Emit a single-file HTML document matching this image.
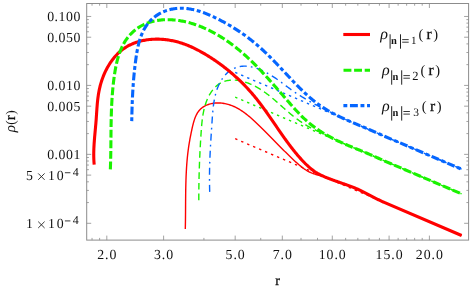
<!DOCTYPE html>
<html><head><meta charset="utf-8"><style>
html,body{margin:0;padding:0;background:#fff;}
svg{display:block;will-change:transform;font-family:"Liberation Serif",serif;}
text{fill:#111;text-rendering:geometricPrecision;}
</style></head><body>
<svg width="474" height="290" viewBox="0 0 474 290">
<rect width="474" height="290" fill="#fff"/>
<g><path d="M185.30,228.90 L185.33,227.87 L185.35,226.84 L185.37,225.81 L185.39,224.77 L185.41,223.73 L185.43,222.70 L185.44,221.65 L185.46,220.61 L185.47,219.56 L185.48,218.52 L185.49,217.47 L185.50,216.42 L185.51,215.36 L185.52,214.31 L185.53,213.25 L185.54,212.19 L185.54,211.14 L185.55,210.08 L185.56,209.01 L185.56,207.95 L185.57,206.89 L185.57,205.82 L185.58,204.75 L185.59,203.69 L185.59,202.62 L185.60,201.55 L185.61,200.48 L185.62,199.41 L185.63,198.34 L185.64,197.26 L185.65,196.19 L185.66,195.12 L185.67,194.05 L185.68,192.97 L185.70,191.90 L185.71,190.82 L185.73,189.75 L185.75,188.68 L185.77,187.60 L185.79,186.53 L185.82,185.45 L185.84,184.38 L185.87,183.31 L185.90,182.23 L185.93,181.16 L185.96,180.09 L186.00,179.02 L186.04,177.94 L186.08,176.87 L186.12,175.80 L186.17,174.74 L186.22,173.67 L186.27,172.60 L186.32,171.54 L186.38,170.47 L186.44,169.41 L186.50,168.34 L186.57,167.28 L186.64,166.22 L186.71,165.17 L186.79,164.11 L186.87,163.05 L186.95,162.00 L187.04,160.95 L187.13,159.90 L187.23,158.85 L187.33,157.80 L187.43,156.76 L187.54,155.72 L187.65,154.68 L187.77,153.64 L187.89,152.60 L188.02,151.57 L188.15,150.54 L188.28,149.51 L188.43,148.48 L188.57,147.46 L188.72,146.43 L188.88,145.41 L189.04,144.39 L189.20,143.36 L189.37,142.33 L189.55,141.31 L189.73,140.28 L189.91,139.24 L190.10,138.21 L190.30,137.17 L190.50,136.12 L190.70,135.07 L190.92,134.02 L191.13,132.95 L191.35,131.89 L191.58,130.81 L191.81,129.73 L192.05,128.63 L192.30,127.53 L192.55,126.43 L192.81,125.32 L193.09,124.22 L193.38,123.12 L193.68,122.02 L194.00,120.94 L194.34,119.87 L194.71,118.81 L195.09,117.77 L195.50,116.76 L195.94,115.76 L196.40,114.80 L196.90,113.86 L197.42,112.95 L197.99,112.08 L198.58,111.25 L199.22,110.46 L199.89,109.71 L200.60,109.01 L201.35,108.34 L202.12,107.72 L202.93,107.14 L203.77,106.60 L204.64,106.10 L205.53,105.63 L206.45,105.21 L207.39,104.83 L208.35,104.48 L209.33,104.17 L210.33,103.90 L211.34,103.66 L212.36,103.46 L213.40,103.29 L214.44,103.16 L215.49,103.06 L216.55,103.00 L217.61,102.97 L218.67,102.97 L219.74,103.00 L220.80,103.07 L221.86,103.17 L222.91,103.29 L223.96,103.45 L224.99,103.64 L226.02,103.85 L227.04,104.09 L228.05,104.36 L229.05,104.66 L230.04,104.98 L231.03,105.33 L232.00,105.70 L232.97,106.09 L233.93,106.51 L234.88,106.95 L235.82,107.41 L236.75,107.89 L237.68,108.40 L238.60,108.92 L239.51,109.45 L240.41,110.01 L241.31,110.58 L242.20,111.17 L243.08,111.78 L243.96,112.39 L244.83,113.03 L245.69,113.67 L246.55,114.33 L247.40,115.00 L248.25,115.68 L249.09,116.37 L249.92,117.07 L250.75,117.78 L251.57,118.50 L252.39,119.22 L253.20,119.95 L254.01,120.69 L254.81,121.43 L255.61,122.17 L256.40,122.92 L257.19,123.67 L257.97,124.42 L258.75,125.18 L259.53,125.93 L260.30,126.68 L261.07,127.44 L261.83,128.19 L262.60,128.94 L263.36,129.70 L264.11,130.45 L264.86,131.20 L265.61,131.96 L266.36,132.71 L267.11,133.46 L267.85,134.21 L268.59,134.97 L269.33,135.72 L270.07,136.47 L270.80,137.22 L271.54,137.97 L272.27,138.72 L273.01,139.47 L273.74,140.22 L274.47,140.96 L275.20,141.71 L275.93,142.46 L276.67,143.20 L277.40,143.95 L278.13,144.70 L278.86,145.44 L279.59,146.19 L280.33,146.93 L281.06,147.67 L281.80,148.41 L282.54,149.16 L283.27,149.90 L284.02,150.64 L284.76,151.38 L285.50,152.11 L286.25,152.85 L287.00,153.59 L287.75,154.33 L288.50,155.06 L289.26,155.79 L290.02,156.53 L290.79,157.26 L291.55,157.99 L292.32,158.72 L293.10,159.45 L293.88,160.18 L294.66,160.91 L295.45,161.64 L296.24,162.36 L297.04,163.08 L297.84,163.80 L298.65,164.50 L299.47,165.20 L300.29,165.89 L301.12,166.57 L301.96,167.23 L302.81,167.87 L303.67,168.50 L304.55,169.11 L305.43,169.70 L306.32,170.26 L307.23,170.80 L308.14,171.32 L309.08,171.80 L310.02,172.26 L310.98,172.69 L311.95,173.09 L312.94,173.47 L313.93,173.82 L314.93,174.16 L315.94,174.47 L316.96,174.78 L317.98,175.07 L319.01,175.26 L320.04,175.48 L321.07,175.73 L322.11,176.02 L323.14,176.34 L324.17,176.68 L325.20,177.05 L326.22,177.44 L327.24,177.84 L328.26,178.26 L329.28,178.68 L330.13,179.03 L331.13,179.41 L332.14,179.78 L333.14,180.15 L334.15,180.51 L335.17,180.87 L336.18,181.23 L337.20,181.58 L338.21,181.93 L339.23,182.28 L340.25,182.63 L341.27,182.99 L342.28,183.34 L343.30,183.69 L344.32,184.04 L345.33,184.40 L346.34,184.76 L347.36,185.12 L348.37,185.49 L349.37,185.86 L350.38,186.24 L351.38,186.62 L352.38,187.01 L353.38,187.41 L354.37,187.80 L355.36,188.21 L356.35,188.62 L357.33,189.04 L358.32,189.46 L359.30,189.88 L360.27,190.33 L361.25,190.84 L362.22,191.35 L363.20,191.86 L364.16,192.37 L365.13,192.88 L366.10,193.39 L367.06,193.90 L368.02,194.41 L368.98,194.92 L369.94,195.42 L370.90,195.92 L371.86,196.42 L372.81,196.91 L373.77,197.40 L374.72,197.88 L375.68,198.36 L376.63,198.83 L377.58,199.30 L378.53,199.76 L379.48,200.22 L380.43,200.67 L381.38,201.12 L382.33,201.56 L383.28,201.99 L384.23,202.42 L461.60,235.50" fill="none" stroke="#ff0000" stroke-width="1.4" stroke-linecap="butt" stroke-linejoin="round"/>
<path d="M198.80,200.20 L198.80,199.18 L198.80,198.16 L198.80,197.14 L198.80,196.12 L198.81,195.11 L198.82,194.10 L198.82,193.09 L198.83,192.08 L198.84,191.07 L198.85,190.07 L198.86,189.07 L198.87,188.07 L198.88,187.08 L198.90,186.08 L198.91,185.09 L198.93,184.10 L198.94,183.11 L198.96,182.12 L198.98,181.13 L199.00,180.15 L199.02,179.16 L199.04,178.18 L199.06,177.20 L199.08,176.22 L199.11,175.24 L199.13,174.26 L199.16,173.28 L199.19,172.31 L199.22,171.33 L199.24,170.36 L199.27,169.38 L199.31,168.41 L199.34,167.44 L199.37,166.47 L199.40,165.49 L199.44,164.52 L199.47,163.55 L199.51,162.58 L199.55,161.61 L199.59,160.64 L199.63,159.67 L199.67,158.70 L199.71,157.73 L199.75,156.76 L199.80,155.79 L199.84,154.81 L199.89,153.84 L199.93,152.87 L199.98,151.90 L200.03,150.92 L200.08,149.95 L200.13,148.98 L200.18,148.00 L200.23,147.02 L200.29,146.05 L200.34,145.07 L200.40,144.09 L200.45,143.11 L200.51,142.13 L200.57,141.14 L200.63,140.16 L200.69,139.17 L200.75,138.19 L200.81,137.20 L200.88,136.21 L200.94,135.22 L201.01,134.22 L201.07,133.23 L201.14,132.23 L201.21,131.23 L201.28,130.23 L201.35,129.23 L201.43,128.23 L201.51,127.22 L201.59,126.22 L201.68,125.22 L201.77,124.22 L201.87,123.21 L201.97,122.21 L202.08,121.21 L202.19,120.21 L202.32,119.21 L202.45,118.22 L202.59,117.22 L202.73,116.23 L202.89,115.24 L203.05,114.26 L203.23,113.27 L203.41,112.30 L203.61,111.32 L203.82,110.35 L204.04,109.38 L204.27,108.42 L204.52,107.46 L204.78,106.51 L205.05,105.56 L205.34,104.62 L205.64,103.68 L205.95,102.75 L206.29,101.83 L206.64,100.91 L207.00,100.00 L207.38,99.10 L207.78,98.20 L208.20,97.31 L208.64,96.43 L209.10,95.56 L209.57,94.70 L210.07,93.85 L210.58,93.01 L211.12,92.18 L211.67,91.36 L212.25,90.57 L212.84,89.79 L213.46,89.03 L214.10,88.30 L214.76,87.58 L215.44,86.90 L216.14,86.24 L216.86,85.60 L217.60,85.00 L218.36,84.43 L219.15,83.90 L219.95,83.40 L220.78,82.94 L221.63,82.51 L222.49,82.12 L223.37,81.76 L224.27,81.43 L225.18,81.14 L226.10,80.89 L227.03,80.67 L227.97,80.48 L228.93,80.32 L229.89,80.20 L230.85,80.11 L231.82,80.05 L232.80,80.03 L233.77,80.04 L234.76,80.07 L235.74,80.14 L236.72,80.23 L237.71,80.36 L238.70,80.50 L239.68,80.68 L240.67,80.88 L241.65,81.10 L242.63,81.35 L243.61,81.61 L244.59,81.90 L245.56,82.21 L246.53,82.54 L247.49,82.89 L248.45,83.25 L249.40,83.63 L250.34,84.03 L251.28,84.44 L252.20,84.86 L253.12,85.30 L254.03,85.75 L254.93,86.21 L255.82,86.68 L256.70,87.16 L257.57,87.65 L258.43,88.15 L259.29,88.66 L260.13,89.18 L260.97,89.71 L261.79,90.24 L262.61,90.79 L263.43,91.34 L264.23,91.90 L265.03,92.46 L265.82,93.04 L266.61,93.62 L267.39,94.20 L268.17,94.79 L268.94,95.39 L269.70,96.00 L270.46,96.60 L271.22,97.22 L271.97,97.83 L272.72,98.45 L273.47,99.08 L274.21,99.71 L274.95,100.34 L275.69,100.98 L276.43,101.61 L277.16,102.25 L277.89,102.90 L278.62,103.54 L279.36,104.19 L280.09,104.83 L280.82,105.48 L281.55,106.13 L282.28,106.78 L283.01,107.43 L283.74,108.07 L284.48,108.72 L285.21,109.37 L285.95,110.01 L286.69,110.66 L287.43,111.30 L288.18,111.94 L288.93,112.57 L289.68,113.21 L290.44,113.84 L291.20,114.47 L291.96,115.09 L292.73,115.71 L293.50,116.33 L294.28,116.94 L295.06,117.55 L295.85,118.15 L296.64,118.74 L297.43,119.33 L298.23,119.92 L299.04,120.50 L299.85,121.07 L300.66,121.63 L301.48,122.19 L302.30,122.74 L303.13,123.28 L303.96,123.81 L304.80,124.34 L305.64,124.85 L306.49,125.36 L307.34,125.86 L308.20,126.34 L309.06,126.82 L309.92,127.29 L310.79,127.76 L311.67,128.21 L312.54,128.66 L313.42,129.11 L314.30,129.55 L315.19,129.98 L316.07,130.41 L316.96,130.84 L317.85,131.27 L318.74,131.70 L319.63,132.12 L320.51,132.50 L321.40,132.85 L322.29,133.22 L323.19,133.61 L324.08,134.01 L324.97,134.42 L325.86,134.85 L326.75,135.29 L327.65,135.73 L328.54,136.18 L329.43,136.64 L330.33,137.10 L331.22,137.56 L332.92,138.44 L333.86,138.92 L334.82,139.39 L335.77,139.86 L336.73,140.33 L337.69,140.79 L338.65,141.24 L339.62,141.69 L340.58,142.14 L341.55,142.58 L342.53,143.01 L343.50,143.45 L344.48,143.88 L345.45,144.30 L346.43,144.73 L347.42,145.15 L348.40,145.56 L349.38,145.98 L350.37,146.39 L351.35,146.80 L352.34,147.21 L353.33,147.61 L354.32,148.02 L355.31,148.42 L356.30,148.82 L357.29,149.22 L358.28,149.62 L359.27,150.02 L360.26,150.42 L361.25,150.83 L362.24,151.23 L363.23,151.64 L364.22,152.05 L365.21,152.47 L366.20,152.89 L367.18,153.30 L368.17,153.72 L369.15,154.15 L370.14,154.57 L371.12,155.00 L372.10,155.43 L373.08,155.86 L374.06,156.29 L375.04,156.72 L376.02,157.16 L376.99,157.59 L377.97,158.03 L378.94,158.46 L379.91,158.89 L380.89,159.33 L381.86,159.76 L382.83,160.19 L383.79,160.63 L384.76,161.06 L461.60,193.90" fill="none" stroke="#1af200" stroke-width="1.4" stroke-dasharray="6.7 3.9" stroke-linecap="butt" stroke-linejoin="round"/>
<path d="M209.70,191.88 L209.67,190.83 L209.64,189.80 L209.62,188.77 L209.60,187.74 L209.58,186.72 L209.56,185.70 L209.54,184.69 L209.53,183.68 L209.52,182.68 L209.51,181.68 L209.51,180.68 L209.50,179.69 L209.50,178.70 L209.50,177.72 L209.50,176.74 L209.51,175.76 L209.51,174.79 L209.52,173.82 L209.53,172.85 L209.55,171.89 L209.56,170.93 L209.58,169.97 L209.59,169.01 L209.61,168.06 L209.63,167.11 L209.66,166.16 L209.68,165.21 L209.71,164.27 L209.74,163.32 L209.77,162.38 L209.80,161.44 L209.83,160.51 L209.86,159.57 L209.90,158.64 L209.93,157.70 L209.97,156.77 L210.01,155.84 L210.05,154.91 L210.09,153.98 L210.14,153.05 L210.18,152.12 L210.23,151.20 L210.27,150.27 L210.32,149.34 L210.37,148.42 L210.42,147.49 L210.47,146.56 L210.52,145.63 L210.58,144.71 L210.63,143.78 L210.68,142.85 L210.74,141.92 L210.79,140.99 L210.85,140.06 L210.91,139.13 L210.97,138.19 L211.02,137.26 L211.08,136.32 L211.14,135.38 L211.20,134.44 L211.26,133.50 L211.33,132.56 L211.39,131.62 L211.45,130.67 L211.51,129.72 L211.58,128.77 L211.64,127.81 L211.70,126.86 L211.77,125.90 L211.83,124.94 L211.89,123.97 L211.96,123.00 L212.02,122.03 L212.09,121.06 L212.15,120.08 L212.22,119.10 L212.28,118.12 L212.35,117.13 L212.42,116.15 L212.50,115.16 L212.57,114.17 L212.65,113.18 L212.74,112.19 L212.83,111.20 L212.92,110.21 L213.02,109.22 L213.12,108.23 L213.24,107.24 L213.35,106.26 L213.48,105.27 L213.61,104.29 L213.75,103.31 L213.90,102.33 L214.06,101.36 L214.22,100.38 L214.40,99.42 L214.59,98.45 L214.78,97.49 L214.99,96.54 L215.21,95.59 L215.44,94.64 L215.69,93.70 L215.95,92.77 L216.22,91.84 L216.50,90.92 L216.80,90.01 L217.11,89.10 L217.44,88.20 L217.79,87.31 L218.15,86.42 L218.52,85.55 L218.92,84.68 L219.33,83.82 L219.76,82.97 L220.20,82.13 L220.67,81.30 L221.15,80.48 L221.66,79.68 L222.18,78.88 L222.72,78.10 L223.28,77.33 L223.86,76.58 L224.46,75.85 L225.08,75.13 L225.72,74.44 L226.37,73.76 L227.04,73.11 L227.73,72.48 L228.44,71.88 L229.17,71.30 L229.92,70.75 L230.68,70.23 L231.46,69.74 L232.26,69.28 L233.08,68.85 L233.90,68.45 L234.75,68.09 L235.60,67.75 L236.47,67.45 L237.35,67.17 L238.24,66.93 L239.14,66.72 L240.05,66.54 L240.97,66.40 L241.89,66.29 L242.82,66.21 L243.75,66.16 L244.69,66.15 L245.63,66.16 L246.57,66.21 L247.52,66.29 L248.46,66.39 L249.41,66.52 L250.36,66.68 L251.31,66.86 L252.26,67.06 L253.20,67.29 L254.15,67.54 L255.09,67.82 L256.03,68.11 L256.96,68.42 L257.89,68.75 L258.81,69.10 L259.73,69.46 L260.65,69.84 L261.55,70.23 L262.45,70.63 L263.34,71.05 L264.22,71.48 L265.10,71.92 L265.96,72.37 L266.82,72.83 L267.67,73.31 L268.52,73.79 L269.36,74.27 L270.19,74.77 L271.01,75.28 L271.83,75.79 L272.65,76.31 L273.46,76.84 L274.26,77.37 L275.06,77.91 L275.86,78.45 L276.65,79.00 L277.44,79.55 L278.22,80.11 L279.00,80.67 L279.78,81.24 L280.56,81.81 L281.34,82.38 L282.11,82.95 L282.88,83.52 L283.65,84.10 L284.42,84.67 L285.19,85.25 L285.96,85.82 L286.73,86.40 L287.50,86.97 L288.27,87.54 L289.04,88.11 L289.82,88.68 L290.59,89.25 L291.37,89.81 L292.15,90.37 L292.93,90.92 L293.71,91.47 L294.50,92.02 L295.29,92.56 L296.08,93.09 L296.88,93.63 L297.68,94.15 L298.48,94.67 L299.29,95.19 L300.10,95.70 L300.91,96.21 L301.72,96.72 L302.54,97.22 L303.36,97.72 L304.18,98.21 L305.00,98.70 L305.82,99.19 L306.65,99.67 L307.48,100.15 L308.31,100.62 L309.15,101.10 L309.98,101.57 L310.82,102.04 L311.66,102.50 L312.50,102.96 L313.34,103.42 L314.18,103.88 L315.03,104.33 L315.87,104.79 L316.72,105.24 L317.57,105.68 L318.42,106.13 L319.27,106.57 L320.12,107.02 L320.97,107.46 L321.82,107.90 L322.67,108.34 L323.53,108.73 L324.38,109.11 L325.24,109.50 L326.09,109.90 L326.95,110.31 L327.81,110.73 L328.67,111.16 L329.53,111.59 L330.39,112.02 L331.25,112.46 L332.11,112.90 L332.97,113.34 L333.83,113.79 L334.70,114.23 L335.34,114.56 L336.17,114.98 L337.01,115.41 L337.85,115.82 L338.69,116.24 L339.53,116.65 L340.37,117.05 L341.22,117.46 L342.07,117.86 L342.92,118.25 L343.77,118.65 L344.62,119.04 L345.48,119.43 L346.34,119.81 L347.19,120.19 L348.05,120.57 L348.91,120.95 L349.78,121.33 L350.64,121.70 L351.50,122.07 L352.37,122.44 L353.23,122.81 L354.10,123.18 L354.97,123.54 L355.84,123.91 L356.70,124.27 L357.57,124.63 L358.44,124.99 L359.31,125.35 L360.18,125.72 L361.05,126.08 L361.92,126.44 L362.79,126.81 L363.66,127.18 L364.53,127.54 L365.40,127.91 L366.26,128.28 L367.13,128.65 L368.00,129.02 L368.87,129.40 L369.73,129.77 L370.60,130.14 L371.46,130.52 L372.33,130.90 L373.19,131.27 L374.05,131.65 L374.91,132.03 L375.77,132.41 L376.63,132.78 L377.49,133.16 L378.35,133.54 L379.21,133.92 L380.07,134.29 L380.92,134.67 L381.78,135.05 L382.63,135.42 L383.49,135.80 L384.34,136.17 L461.60,169.20" fill="none" stroke="#0566ff" stroke-width="1.4" stroke-dasharray="7 4.2 1.7 4.2" stroke-linecap="butt" stroke-linejoin="round"/>
<path d="M235.18,138.73 L461.60,235.50" fill="none" stroke="#ff0000" stroke-width="1.4" stroke-dasharray="2.4 4.1"/>
<path d="M235.18,97.13 L461.60,193.90" fill="none" stroke="#1af200" stroke-width="1.4" stroke-dasharray="2.4 4.1"/>
<path d="M235.18,72.43 L461.60,169.20" fill="none" stroke="#0566ff" stroke-width="1.4" stroke-dasharray="2.4 4.1"/>
<path d="M94.20,164.70 L94.10,163.65 L94.02,162.61 L93.95,161.56 L93.89,160.50 L93.84,159.45 L93.80,158.39 L93.77,157.34 L93.75,156.28 L93.74,155.21 L93.74,154.15 L93.75,153.08 L93.77,152.02 L93.79,150.95 L93.82,149.88 L93.86,148.81 L93.91,147.74 L93.96,146.67 L94.02,145.59 L94.08,144.52 L94.15,143.45 L94.22,142.37 L94.30,141.30 L94.38,140.22 L94.46,139.14 L94.55,138.07 L94.64,136.99 L94.74,135.91 L94.83,134.84 L94.93,133.76 L95.03,132.68 L95.12,131.61 L95.22,130.53 L95.32,129.46 L95.42,128.38 L95.52,127.31 L95.61,126.24 L95.71,125.17 L95.80,124.10 L95.89,123.03 L95.98,121.96 L96.07,120.89 L96.15,119.83 L96.23,118.76 L96.30,117.70 L96.37,116.64 L96.44,115.58 L96.52,114.52 L96.59,113.46 L96.66,112.41 L96.73,111.35 L96.80,110.30 L96.87,109.24 L96.95,108.19 L97.03,107.14 L97.11,106.09 L97.19,105.04 L97.28,103.99 L97.38,102.94 L97.48,101.90 L97.59,100.85 L97.71,99.80 L97.83,98.76 L97.96,97.71 L98.10,96.67 L98.25,95.63 L98.40,94.58 L98.57,93.54 L98.75,92.50 L98.94,91.46 L99.15,90.42 L99.36,89.37 L99.59,88.33 L99.83,87.29 L100.09,86.25 L100.36,85.21 L100.64,84.17 L100.94,83.13 L101.26,82.10 L101.59,81.06 L101.93,80.03 L102.29,79.00 L102.66,77.98 L103.04,76.96 L103.44,75.94 L103.86,74.93 L104.29,73.93 L104.73,72.93 L105.19,71.93 L105.66,70.95 L106.14,69.97 L106.64,69.00 L107.15,68.04 L107.68,67.09 L108.22,66.15 L108.78,65.21 L109.35,64.29 L109.93,63.38 L110.53,62.48 L111.14,61.59 L111.76,60.71 L112.40,59.85 L113.05,59.00 L113.72,58.16 L114.40,57.34 L115.09,56.53 L115.80,55.74 L116.52,54.96 L117.25,54.20 L118.00,53.46 L118.76,52.73 L119.54,52.02 L120.33,51.33 L121.13,50.65 L121.94,50.00 L122.77,49.36 L123.62,48.75 L124.47,48.15 L125.34,47.58 L126.22,47.02 L127.12,46.49 L128.03,45.97 L128.94,45.48 L129.87,45.00 L130.81,44.55 L131.77,44.11 L132.73,43.70 L133.70,43.30 L134.68,42.92 L135.67,42.57 L136.66,42.23 L137.67,41.90 L138.68,41.60 L139.71,41.32 L140.73,41.05 L141.77,40.80 L142.81,40.57 L143.86,40.36 L144.91,40.17 L145.96,39.99 L147.03,39.83 L148.09,39.69 L149.16,39.56 L150.23,39.45 L151.31,39.36 L152.39,39.28 L153.47,39.23 L154.55,39.18 L155.64,39.16 L156.73,39.15 L157.81,39.15 L158.90,39.17 L159.99,39.21 L161.07,39.26 L162.16,39.33 L163.24,39.41 L164.32,39.51 L165.41,39.62 L166.48,39.75 L167.56,39.89 L168.63,40.05 L169.70,40.22 L170.76,40.41 L171.83,40.61 L172.88,40.82 L173.93,41.05 L174.98,41.29 L176.02,41.54 L177.05,41.81 L178.08,42.09 L179.11,42.38 L180.13,42.69 L181.14,43.00 L182.15,43.33 L183.16,43.67 L184.16,44.02 L185.16,44.38 L186.15,44.76 L187.14,45.14 L188.12,45.54 L189.10,45.94 L190.08,46.36 L191.05,46.78 L192.01,47.22 L192.98,47.66 L193.94,48.11 L194.89,48.57 L195.84,49.04 L196.79,49.52 L197.73,50.01 L198.67,50.50 L199.61,51.01 L200.54,51.51 L201.47,52.03 L202.40,52.55 L203.32,53.08 L204.24,53.62 L205.15,54.16 L206.07,54.71 L206.98,55.27 L207.88,55.83 L208.79,56.39 L209.69,56.96 L210.58,57.54 L211.48,58.12 L212.37,58.70 L213.26,59.29 L214.15,59.89 L215.03,60.49 L215.91,61.09 L216.78,61.70 L217.66,62.32 L218.53,62.94 L219.39,63.56 L220.26,64.19 L221.12,64.82 L221.97,65.46 L222.83,66.10 L223.68,66.75 L224.52,67.41 L225.37,68.06 L226.20,68.73 L227.04,69.39 L227.87,70.06 L228.70,70.74 L229.52,71.42 L230.35,72.11 L231.16,72.80 L231.98,73.49 L232.79,74.19 L233.59,74.89 L234.39,75.60 L235.19,76.31 L235.98,77.03 L236.77,77.75 L237.56,78.48 L238.34,79.21 L239.12,79.94 L239.89,80.68 L240.66,81.42 L241.43,82.17 L242.19,82.92 L242.94,83.68 L243.69,84.44 L244.44,85.20 L245.19,85.97 L245.92,86.74 L246.66,87.52 L247.39,88.30 L248.11,89.09 L248.84,89.88 L249.55,90.67 L250.26,91.47 L250.97,92.27 L251.67,93.07 L252.37,93.88 L253.06,94.70 L253.75,95.51 L254.43,96.34 L255.11,97.16 L255.79,97.99 L256.46,98.82 L257.12,99.66 L257.79,100.50 L258.44,101.34 L259.10,102.18 L259.75,103.03 L260.40,103.88 L261.04,104.74 L261.68,105.59 L262.32,106.45 L262.95,107.31 L263.59,108.17 L264.21,109.04 L264.84,109.91 L265.47,110.78 L266.09,111.65 L266.71,112.52 L267.33,113.39 L267.94,114.27 L268.56,115.15 L269.17,116.02 L269.78,116.90 L270.39,117.78 L271.00,118.66 L271.61,119.55 L272.22,120.43 L272.82,121.31 L273.43,122.19 L274.04,123.08 L274.64,123.96 L275.25,124.85 L275.85,125.73 L276.46,126.61 L277.06,127.50 L277.67,128.38 L278.27,129.26 L278.88,130.14 L279.49,131.02 L280.10,131.90 L280.71,132.78 L281.32,133.66 L281.93,134.54 L282.54,135.41 L283.16,136.28 L283.77,137.16 L284.39,138.03 L285.01,138.89 L285.64,139.76 L286.26,140.63 L286.89,141.49 L287.52,142.35 L288.15,143.20 L288.79,144.06 L289.42,144.91 L290.07,145.76 L290.71,146.61 L291.36,147.45 L292.01,148.29 L292.66,149.13 L293.32,149.96 L293.99,150.80 L294.65,151.62 L295.32,152.45 L296.00,153.27 L296.68,154.08 L297.36,154.89 L298.05,155.70 L298.75,156.50 L299.44,157.30 L300.15,158.10 L300.86,158.89 L301.57,159.67 L302.29,160.45 L303.02,161.23 L303.75,162.00 L304.49,162.76 L305.23,163.52 L305.99,164.26 L306.75,165.00 L307.52,165.73 L308.29,166.45 L309.08,167.15 L309.88,167.85 L310.68,168.53 L311.50,169.19 L312.33,169.84 L313.17,170.47 L314.02,171.09 L314.88,171.69 L315.76,172.27 L316.65,172.82 L317.55,173.36 L318.47,173.88 L319.40,174.38 L320.34,174.86 L321.29,175.32 L322.25,175.77 L323.22,176.21 L324.19,176.64 L325.17,177.06 L326.15,177.47 L327.14,177.87 L328.13,178.26 L329.13,178.65 L330.13,179.03 L331.13,179.41 L332.14,179.78 L333.14,180.15 L334.15,180.51 L335.17,180.87 L336.18,181.23 L337.20,181.58 L338.21,181.93 L339.23,182.28 L340.25,182.63 L341.27,182.99 L342.28,183.34 L343.30,183.69 L344.32,184.04 L345.33,184.40 L346.34,184.76 L347.36,185.12 L348.37,185.49 L349.37,185.86 L350.38,186.24 L351.38,186.62 L352.38,187.01 L353.38,187.41 L354.37,187.80 L355.36,188.21 L356.35,188.62 L357.33,189.04 L358.32,189.46 L359.30,189.88 L360.27,190.33 L361.25,190.84 L362.22,191.35 L363.20,191.86 L364.16,192.37 L365.13,192.88 L366.10,193.39 L367.06,193.90 L368.02,194.41 L368.98,194.92 L369.94,195.42 L370.90,195.92 L371.86,196.42 L372.81,196.91 L373.77,197.40 L374.72,197.88 L375.68,198.36 L376.63,198.83 L377.58,199.30 L378.53,199.76 L379.48,200.22 L380.43,200.67 L381.38,201.12 L382.33,201.56 L383.28,201.99 L384.23,202.42 L461.60,235.50" fill="none" stroke="#ff0000" stroke-width="3.1" stroke-linecap="butt" stroke-linejoin="round"/>
<path d="M110.35,169.43 L110.39,168.34 L110.43,167.25 L110.47,166.16 L110.50,165.07 L110.53,163.99 L110.56,162.91 L110.59,161.82 L110.62,160.75 L110.65,159.67 L110.67,158.59 L110.69,157.52 L110.72,156.45 L110.74,155.38 L110.76,154.31 L110.77,153.24 L110.79,152.17 L110.80,151.11 L110.82,150.04 L110.83,148.98 L110.85,147.92 L110.86,146.86 L110.87,145.80 L110.88,144.74 L110.89,143.69 L110.90,142.63 L110.91,141.58 L110.92,140.52 L110.93,139.47 L110.94,138.42 L110.95,137.37 L110.96,136.32 L110.97,135.27 L110.98,134.22 L110.99,133.17 L111.00,132.12 L111.01,131.08 L111.02,130.03 L111.03,128.98 L111.05,127.94 L111.06,126.89 L111.08,125.85 L111.09,124.80 L111.11,123.76 L111.13,122.71 L111.15,121.67 L111.17,120.63 L111.19,119.58 L111.21,118.54 L111.24,117.49 L111.26,116.45 L111.29,115.40 L111.32,114.36 L111.35,113.31 L111.39,112.27 L111.42,111.22 L111.46,110.18 L111.50,109.13 L111.54,108.08 L111.59,107.04 L111.63,105.99 L111.68,104.94 L111.74,103.89 L111.79,102.84 L111.85,101.79 L111.91,100.74 L111.97,99.69 L112.04,98.63 L112.11,97.58 L112.18,96.52 L112.26,95.47 L112.33,94.41 L112.42,93.35 L112.50,92.29 L112.59,91.23 L112.69,90.17 L112.78,89.11 L112.88,88.04 L112.99,86.98 L113.10,85.91 L113.21,84.84 L113.32,83.77 L113.44,82.70 L113.57,81.63 L113.70,80.55 L113.83,79.47 L113.97,78.40 L114.11,77.32 L114.26,76.23 L114.41,75.15 L114.57,74.07 L114.74,72.99 L114.91,71.91 L115.09,70.83 L115.28,69.75 L115.47,68.67 L115.67,67.60 L115.88,66.52 L116.10,65.45 L116.33,64.39 L116.57,63.32 L116.82,62.26 L117.07,61.21 L117.34,60.16 L117.62,59.11 L117.91,58.07 L118.21,57.04 L118.53,56.01 L118.85,54.99 L119.19,53.98 L119.54,52.98 L119.91,51.98 L120.28,50.99 L120.68,50.01 L121.08,49.04 L121.51,48.07 L121.94,47.12 L122.40,46.18 L122.86,45.25 L123.35,44.33 L123.85,43.42 L124.37,42.52 L124.90,41.64 L125.45,40.77 L126.02,39.91 L126.61,39.06 L127.22,38.23 L127.85,37.41 L128.49,36.61 L129.16,35.82 L129.84,35.04 L130.54,34.29 L131.25,33.55 L131.99,32.82 L132.74,32.11 L133.50,31.42 L134.28,30.74 L135.08,30.09 L135.89,29.45 L136.72,28.83 L137.56,28.23 L138.41,27.64 L139.28,27.08 L140.16,26.54 L141.05,26.01 L141.96,25.51 L142.87,25.03 L143.80,24.57 L144.74,24.13 L145.69,23.71 L146.65,23.31 L147.62,22.94 L148.60,22.59 L149.59,22.26 L150.59,21.95 L151.60,21.66 L152.61,21.40 L153.63,21.15 L154.66,20.93 L155.70,20.72 L156.74,20.53 L157.78,20.37 L158.83,20.22 L159.89,20.09 L160.95,19.98 L162.01,19.88 L163.07,19.81 L164.14,19.75 L165.21,19.71 L166.28,19.68 L167.35,19.68 L168.43,19.68 L169.50,19.71 L170.57,19.75 L171.65,19.80 L172.72,19.87 L173.79,19.95 L174.86,20.05 L175.92,20.16 L176.99,20.29 L178.05,20.43 L179.12,20.59 L180.18,20.75 L181.23,20.94 L182.29,21.13 L183.34,21.34 L184.40,21.56 L185.45,21.79 L186.49,22.03 L187.54,22.29 L188.58,22.56 L189.62,22.84 L190.66,23.13 L191.69,23.43 L192.72,23.75 L193.75,24.07 L194.77,24.41 L195.79,24.76 L196.81,25.11 L197.82,25.48 L198.83,25.86 L199.84,26.24 L200.84,26.64 L201.83,27.04 L202.83,27.46 L203.82,27.88 L204.80,28.31 L205.78,28.76 L206.76,29.20 L207.73,29.66 L208.70,30.13 L209.66,30.60 L210.62,31.08 L211.57,31.57 L212.52,32.06 L213.46,32.57 L214.40,33.07 L215.33,33.59 L216.25,34.11 L217.18,34.64 L218.09,35.17 L219.00,35.72 L219.91,36.26 L220.81,36.82 L221.71,37.38 L222.60,37.94 L223.48,38.52 L224.37,39.09 L225.24,39.68 L226.12,40.27 L226.98,40.86 L227.85,41.46 L228.71,42.07 L229.56,42.68 L230.41,43.30 L231.26,43.92 L232.10,44.55 L232.94,45.19 L233.78,45.82 L234.61,46.47 L235.44,47.12 L236.26,47.77 L237.08,48.43 L237.89,49.09 L238.70,49.76 L239.51,50.43 L240.32,51.10 L241.12,51.78 L241.92,52.47 L242.71,53.16 L243.50,53.85 L244.29,54.55 L245.07,55.25 L245.85,55.96 L246.63,56.67 L247.41,57.38 L248.18,58.10 L248.95,58.82 L249.71,59.54 L250.48,60.27 L251.24,61.00 L252.00,61.73 L252.75,62.47 L253.51,63.21 L254.26,63.95 L255.00,64.70 L255.75,65.45 L256.49,66.20 L257.23,66.96 L257.97,67.72 L258.71,68.48 L259.44,69.24 L260.18,70.00 L260.91,70.77 L261.63,71.54 L262.36,72.32 L263.09,73.09 L263.81,73.87 L264.53,74.65 L265.25,75.43 L265.97,76.21 L266.68,76.99 L267.40,77.78 L268.11,78.57 L268.83,79.36 L269.54,80.15 L270.25,80.94 L270.96,81.73 L271.66,82.53 L272.37,83.32 L273.07,84.12 L273.78,84.92 L274.48,85.72 L275.19,86.52 L275.89,87.32 L276.59,88.12 L277.29,88.92 L277.99,89.72 L278.69,90.53 L279.39,91.33 L280.09,92.13 L280.79,92.94 L281.48,93.74 L282.18,94.55 L282.88,95.35 L283.58,96.16 L284.27,96.96 L284.97,97.76 L285.67,98.57 L286.37,99.37 L287.06,100.17 L287.76,100.98 L288.46,101.78 L289.16,102.58 L289.86,103.38 L290.56,104.18 L291.26,104.97 L291.96,105.77 L292.67,106.56 L293.37,107.35 L294.08,108.14 L294.79,108.92 L295.51,109.71 L296.22,110.48 L296.94,111.26 L297.66,112.03 L298.39,112.80 L299.12,113.56 L299.85,114.32 L300.59,115.07 L301.33,115.82 L302.08,116.56 L302.83,117.29 L303.59,118.02 L304.35,118.75 L305.12,119.46 L305.89,120.18 L306.67,120.88 L307.45,121.58 L308.25,122.26 L309.05,122.95 L309.85,123.62 L310.66,124.28 L311.48,124.94 L312.31,125.59 L313.14,126.23 L313.98,126.86 L314.83,127.48 L315.69,128.10 L316.55,128.71 L317.41,129.31 L318.28,129.90 L319.16,130.49 L320.05,131.06 L320.93,131.63 L321.83,132.20 L322.73,132.75 L323.63,133.30 L324.54,133.85 L325.46,134.38 L326.37,134.91 L327.30,135.43 L328.22,135.95 L329.15,136.46 L330.09,136.96 L331.03,137.46 L331.97,137.95 L332.92,138.44 L333.86,138.92 L334.82,139.39 L335.77,139.86 L336.73,140.33 L337.69,140.79 L338.65,141.24 L339.62,141.69 L340.58,142.14 L341.55,142.58 L342.53,143.01 L343.50,143.45 L344.48,143.88 L345.45,144.30 L346.43,144.73 L347.42,145.15 L348.40,145.56 L349.38,145.98 L350.37,146.39 L351.35,146.80 L352.34,147.21 L353.33,147.61 L354.32,148.02 L355.31,148.42 L356.30,148.82 L357.29,149.22 L358.28,149.62 L359.27,150.02 L360.26,150.42 L361.25,150.83 L362.24,151.23 L363.23,151.64 L364.22,152.05 L365.21,152.47 L366.20,152.89 L367.18,153.30 L368.17,153.72 L369.15,154.15 L370.14,154.57 L371.12,155.00 L372.10,155.43 L373.08,155.86 L374.06,156.29 L375.04,156.72 L376.02,157.16 L376.99,157.59 L377.97,158.03 L378.94,158.46 L379.91,158.89 L380.89,159.33 L381.86,159.76 L382.83,160.19 L383.79,160.63 L384.76,161.06 L461.60,193.90" fill="none" stroke="#1af200" stroke-width="3.1" stroke-dasharray="7.9 2.7" stroke-linecap="butt" stroke-linejoin="round"/>
<path d="M131.74,121.11 L131.76,120.15 L131.78,119.20 L131.80,118.24 L131.82,117.29 L131.84,116.33 L131.86,115.38 L131.88,114.43 L131.91,113.49 L131.93,112.54 L131.96,111.60 L131.98,110.66 L132.01,109.72 L132.04,108.78 L132.07,107.84 L132.09,106.91 L132.13,105.97 L132.16,105.04 L132.19,104.11 L132.22,103.18 L132.26,102.25 L132.30,101.32 L132.33,100.39 L132.37,99.46 L132.41,98.54 L132.46,97.61 L132.50,96.69 L132.54,95.77 L132.59,94.84 L132.64,93.92 L132.69,93.00 L132.74,92.08 L132.79,91.15 L132.84,90.23 L132.90,89.31 L132.96,88.39 L133.02,87.47 L133.08,86.55 L133.14,85.63 L133.20,84.71 L133.27,83.79 L133.34,82.87 L133.41,81.95 L133.48,81.03 L133.56,80.11 L133.63,79.19 L133.71,78.27 L133.79,77.35 L133.88,76.42 L133.96,75.50 L134.05,74.58 L134.14,73.65 L134.23,72.73 L134.33,71.80 L134.42,70.87 L134.52,69.94 L134.62,69.02 L134.73,68.09 L134.83,67.15 L134.94,66.22 L135.05,65.29 L135.17,64.35 L135.29,63.42 L135.40,62.48 L135.53,61.54 L135.65,60.60 L135.78,59.66 L135.91,58.71 L136.05,57.77 L136.18,56.82 L136.32,55.88 L136.47,54.93 L136.62,53.98 L136.78,53.03 L136.94,52.09 L137.11,51.14 L137.28,50.20 L137.46,49.25 L137.65,48.31 L137.85,47.37 L138.05,46.44 L138.26,45.50 L138.48,44.57 L138.71,43.65 L138.95,42.72 L139.21,41.81 L139.47,40.89 L139.74,39.98 L140.02,39.08 L140.32,38.18 L140.62,37.29 L140.94,36.40 L141.27,35.52 L141.62,34.64 L141.98,33.78 L142.35,32.92 L142.74,32.07 L143.15,31.22 L143.56,30.39 L144.00,29.56 L144.45,28.75 L144.91,27.94 L145.39,27.15 L145.89,26.37 L146.40,25.60 L146.92,24.84 L147.47,24.10 L148.03,23.37 L148.61,22.65 L149.20,21.95 L149.81,21.27 L150.44,20.60 L151.08,19.95 L151.74,19.32 L152.42,18.70 L153.11,18.10 L153.81,17.52 L154.53,16.95 L155.27,16.40 L156.01,15.87 L156.77,15.36 L157.54,14.86 L158.32,14.38 L159.12,13.92 L159.92,13.47 L160.73,13.04 L161.56,12.63 L162.39,12.24 L163.23,11.87 L164.08,11.51 L164.94,11.17 L165.80,10.85 L166.67,10.55 L167.55,10.27 L168.43,10.00 L169.32,9.75 L170.22,9.52 L171.11,9.31 L172.01,9.12 L172.92,8.95 L173.82,8.79 L174.73,8.66 L175.64,8.54 L176.56,8.45 L177.47,8.37 L178.38,8.31 L179.30,8.26 L180.21,8.24 L181.13,8.23 L182.05,8.24 L182.96,8.27 L183.88,8.32 L184.80,8.38 L185.72,8.45 L186.63,8.55 L187.55,8.65 L188.47,8.78 L189.38,8.91 L190.30,9.07 L191.22,9.23 L192.13,9.41 L193.05,9.60 L193.96,9.81 L194.87,10.03 L195.79,10.26 L196.70,10.50 L197.61,10.75 L198.52,11.02 L199.42,11.30 L200.33,11.58 L201.23,11.88 L202.14,12.19 L203.04,12.50 L203.94,12.83 L204.84,13.17 L205.73,13.51 L206.63,13.86 L207.52,14.23 L208.41,14.59 L209.30,14.97 L210.18,15.35 L211.06,15.74 L211.94,16.14 L212.82,16.54 L213.69,16.95 L214.57,17.36 L215.43,17.78 L216.30,18.21 L217.16,18.63 L218.02,19.07 L218.88,19.50 L219.73,19.94 L220.58,20.38 L221.42,20.83 L222.26,21.28 L223.10,21.73 L223.94,22.18 L224.77,22.64 L225.60,23.10 L226.42,23.56 L227.24,24.03 L228.06,24.50 L228.87,24.97 L229.68,25.44 L230.49,25.92 L231.29,26.40 L232.09,26.88 L232.89,27.37 L233.68,27.86 L234.47,28.35 L235.26,28.85 L236.05,29.35 L236.83,29.85 L237.61,30.36 L238.38,30.87 L239.15,31.38 L239.92,31.90 L240.69,32.41 L241.45,32.94 L242.21,33.46 L242.97,33.99 L243.72,34.52 L244.47,35.06 L245.22,35.60 L245.96,36.14 L246.70,36.69 L247.44,37.24 L248.18,37.79 L248.91,38.35 L249.64,38.91 L250.37,39.47 L251.10,40.04 L251.82,40.61 L252.54,41.18 L253.26,41.76 L253.97,42.34 L254.68,42.93 L255.39,43.52 L256.10,44.11 L256.80,44.71 L257.51,45.31 L258.20,45.91 L258.90,46.52 L259.60,47.13 L260.29,47.75 L260.98,48.36 L261.66,48.99 L262.35,49.61 L263.03,50.25 L263.71,50.88 L264.39,51.52 L265.07,52.16 L265.74,52.80 L266.41,53.45 L267.08,54.10 L267.75,54.75 L268.42,55.40 L269.09,56.06 L269.75,56.72 L270.41,57.38 L271.07,58.05 L271.73,58.72 L272.39,59.38 L273.05,60.06 L273.70,60.73 L274.36,61.40 L275.01,62.08 L275.67,62.76 L276.32,63.44 L276.97,64.12 L277.62,64.80 L278.27,65.48 L278.92,66.17 L279.56,66.85 L280.21,67.54 L280.86,68.23 L281.51,68.91 L282.15,69.60 L282.80,70.29 L283.44,70.98 L284.09,71.67 L284.74,72.36 L285.38,73.05 L286.03,73.74 L286.67,74.42 L287.32,75.11 L287.96,75.80 L288.61,76.49 L289.26,77.18 L289.91,77.86 L290.55,78.55 L291.20,79.23 L291.85,79.92 L292.50,80.60 L293.15,81.28 L293.80,81.96 L294.45,82.64 L295.11,83.31 L295.76,83.99 L296.42,84.66 L297.07,85.33 L297.73,86.00 L298.39,86.67 L299.05,87.34 L299.71,88.00 L300.37,88.66 L301.04,89.32 L301.70,89.97 L302.37,90.62 L303.04,91.27 L303.72,91.92 L304.39,92.56 L305.07,93.20 L305.75,93.84 L306.43,94.47 L307.12,95.09 L307.81,95.72 L308.50,96.34 L309.20,96.95 L309.90,97.56 L310.60,98.17 L311.31,98.77 L312.02,99.36 L312.73,99.95 L313.45,100.54 L314.17,101.12 L314.90,101.69 L315.63,102.26 L316.36,102.82 L317.10,103.38 L317.85,103.93 L318.60,104.48 L319.35,105.01 L320.11,105.55 L320.88,106.07 L321.65,106.59 L322.42,107.10 L323.20,107.61 L323.98,108.11 L324.77,108.60 L325.56,109.09 L326.36,109.58 L327.16,110.05 L327.96,110.53 L328.77,110.99 L329.58,111.46 L330.39,111.91 L331.21,112.37 L332.03,112.81 L332.85,113.26 L333.68,113.69 L334.51,114.13 L335.34,114.56 L336.17,114.98 L337.01,115.41 L337.85,115.82 L338.69,116.24 L339.53,116.65 L340.37,117.05 L341.22,117.46 L342.07,117.86 L342.92,118.25 L343.77,118.65 L344.62,119.04 L345.48,119.43 L346.34,119.81 L347.19,120.19 L348.05,120.57 L348.91,120.95 L349.78,121.33 L350.64,121.70 L351.50,122.07 L352.37,122.44 L353.23,122.81 L354.10,123.18 L354.97,123.54 L355.84,123.91 L356.70,124.27 L357.57,124.63 L358.44,124.99 L359.31,125.35 L360.18,125.72 L361.05,126.08 L361.92,126.44 L362.79,126.81 L363.66,127.18 L364.53,127.54 L365.40,127.91 L366.26,128.28 L367.13,128.65 L368.00,129.02 L368.87,129.40 L369.73,129.77 L370.60,130.14 L371.46,130.52 L372.33,130.90 L373.19,131.27 L374.05,131.65 L374.91,132.03 L375.77,132.41 L376.63,132.78 L377.49,133.16 L378.35,133.54 L379.21,133.92 L380.07,134.29 L380.92,134.67 L381.78,135.05 L382.63,135.42 L383.49,135.80 L384.34,136.17 L461.60,169.20" fill="none" stroke="#0566ff" stroke-width="3.1" stroke-dasharray="3.9 2.65 7.9 2.65" stroke-linecap="butt" stroke-linejoin="round"/></g>
<g><rect x="86.70" y="3.50" width="381.90" height="236.60" fill="none" stroke="#8c8c8c" stroke-width="1"/>
<path d="M106.80,240.10 v-4.50 M106.80,3.50 v4.50 M163.61,240.10 v-4.50 M163.61,3.50 v4.50 M235.18,240.10 v-4.50 M235.18,3.50 v4.50 M282.32,240.10 v-4.50 M282.32,3.50 v4.50 M332.29,240.10 v-4.50 M332.29,3.50 v4.50 M389.09,240.10 v-4.50 M389.09,3.50 v4.50 M429.40,240.10 v-4.50 M429.40,3.50 v4.50 M92.04,240.10 v-2.20 M92.04,3.50 v2.20 M99.61,240.10 v-2.20 M99.61,3.50 v2.20 M203.91,240.10 v-2.20 M203.91,3.50 v2.20 M260.72,240.10 v-2.20 M260.72,3.50 v2.20 M301.02,240.10 v-2.20 M301.02,3.50 v2.20 M317.53,240.10 v-2.20 M317.53,3.50 v2.20 M345.64,240.10 v-2.20 M345.64,3.50 v2.20 M357.83,240.10 v-2.20 M357.83,3.50 v2.20 M369.05,240.10 v-2.20 M369.05,3.50 v2.20 M379.43,240.10 v-2.20 M379.43,3.50 v2.20 M398.14,240.10 v-2.20 M398.14,3.50 v2.20 M406.63,240.10 v-2.20 M406.63,3.50 v2.20 M414.64,240.10 v-2.20 M414.64,3.50 v2.20 M422.21,240.10 v-2.20 M422.21,3.50 v2.20 M86.70,16.46 h4.50 M468.60,16.46 h-4.50 M86.70,37.22 h4.50 M468.60,37.22 h-4.50 M86.70,85.41 h4.50 M468.60,85.41 h-4.50 M86.70,106.17 h4.50 M468.60,106.17 h-4.50 M86.70,154.36 h4.50 M468.60,154.36 h-4.50 M86.70,175.12 h4.50 M468.60,175.12 h-4.50 M86.70,223.31 h4.50 M468.60,223.31 h-4.50 M86.70,202.55 h2.20 M468.60,202.55 h-2.20 M86.70,190.41 h2.20 M468.60,190.41 h-2.20 M86.70,181.80 h2.20 M468.60,181.80 h-2.20 M86.70,169.66 h2.20 M468.60,169.66 h-2.20 M86.70,165.04 h2.20 M468.60,165.04 h-2.20 M86.70,161.04 h2.20 M468.60,161.04 h-2.20 M86.70,157.51 h2.20 M468.60,157.51 h-2.20 M86.70,133.60 h2.20 M468.60,133.60 h-2.20 M86.70,121.46 h2.20 M468.60,121.46 h-2.20 M86.70,112.85 h2.20 M468.60,112.85 h-2.20 M86.70,100.71 h2.20 M468.60,100.71 h-2.20 M86.70,96.09 h2.20 M468.60,96.09 h-2.20 M86.70,92.09 h2.20 M468.60,92.09 h-2.20 M86.70,88.56 h2.20 M468.60,88.56 h-2.20 M86.70,64.65 h2.20 M468.60,64.65 h-2.20 M86.70,52.51 h2.20 M468.60,52.51 h-2.20 M86.70,43.90 h2.20 M468.60,43.90 h-2.20 M86.70,31.76 h2.20 M468.60,31.76 h-2.20 M86.70,27.14 h2.20 M468.60,27.14 h-2.20 M86.70,23.14 h2.20 M468.60,23.14 h-2.20 M86.70,19.61 h2.20 M468.60,19.61 h-2.20" fill="none" stroke="#8c8c8c" stroke-width="0.8"/></g>
<g><text x="107.25" y="258.50" text-anchor="middle" font-size="13.8" letter-spacing="0.95" >2.0</text>
<text x="164.06" y="258.50" text-anchor="middle" font-size="13.8" letter-spacing="0.95" >3.0</text>
<text x="235.63" y="258.50" text-anchor="middle" font-size="13.8" letter-spacing="0.95" >5.0</text>
<text x="282.77" y="258.50" text-anchor="middle" font-size="13.8" letter-spacing="0.95" >7.0</text>
<text x="332.74" y="258.50" text-anchor="middle" font-size="13.8" letter-spacing="0.95" >10.0</text>
<text x="389.54" y="258.50" text-anchor="middle" font-size="13.8" letter-spacing="0.95" >15.0</text>
<text x="429.85" y="258.50" text-anchor="middle" font-size="13.8" letter-spacing="0.95" >20.0</text>
<text x="80.95" y="21.36" text-anchor="end" font-size="13.8" letter-spacing="0.55" >0.100</text>
<text x="80.95" y="42.12" text-anchor="end" font-size="13.8" letter-spacing="0.55" >0.050</text>
<text x="80.95" y="90.31" text-anchor="end" font-size="13.8" letter-spacing="0.55" >0.010</text>
<text x="80.95" y="111.07" text-anchor="end" font-size="13.8" letter-spacing="0.55" >0.005</text>
<text x="80.95" y="159.26" text-anchor="end" font-size="13.8" letter-spacing="0.55" >0.001</text>
<text x="26.1" y="180.12" font-size="13.8">5</text>
<path d="M38.20,173.42 l6.40,6.40 M38.20,179.82 l6.40,-6.40" stroke="#222" stroke-width="0.9" fill="none"/>
<text x="47.9" y="180.12" font-size="13.8" letter-spacing="1.9">10</text>
<path d="M64.9,172.72 h5.5" stroke="#222" stroke-width="0.9"/>
<text x="72.7" y="176.12" font-size="12">4</text>
<text x="26.1" y="228.31" font-size="13.8">1</text>
<path d="M38.20,221.61 l6.40,6.40 M38.20,228.01 l6.40,-6.40" stroke="#222" stroke-width="0.9" fill="none"/>
<text x="47.9" y="228.31" font-size="13.8" letter-spacing="1.9">10</text>
<path d="M64.9,220.91 h5.5" stroke="#222" stroke-width="0.9"/>
<text x="72.7" y="224.31" font-size="12">4</text>
<text x="277.6" y="285" text-anchor="middle" font-size="14" stroke="#111" stroke-width="0.3">r</text>
<g transform="translate(15.3,132.3) rotate(-90)"><text x="0" y="-0.7" font-size="14.8" font-style="italic">ρ</text><text x="9.9" y="-0.6" font-size="13.5" text-anchor="middle">(</text><text x="14.5" y="0" font-size="15" text-anchor="middle" stroke="#111" stroke-width="0.3">r</text><text x="19.9" y="-0.6" font-size="13.5" text-anchor="middle">)</text></g></g>
<g><path d="M343.3,34.5 H370" stroke="#ff0000" stroke-width="3.1"/>
<path d="M343.5,70.2 H370" stroke="#1af200" stroke-width="3.1" stroke-dasharray="7.9 2.7"/>
<path d="M343.4,105.6 H370" stroke="#0566ff" stroke-width="3.1" stroke-dasharray="3.9 2.65 7.9 2.65"/>
<text x="380.20" y="38.60" font-size="16" font-style="italic">ρ</text>
<path d="M390.10,34.30 v14.4 M400.50,34.30 v14.4" stroke="#222" stroke-width="1"/>
<text x="391.00" y="43.80" font-size="10.5" font-weight="bold">n</text>
<path d="M402.20,39.60 h6.5 M402.20,42.20 h6.5" stroke="#222" stroke-width="0.9"/>
<text x="411.10" y="43.80" font-size="11">1</text>
<text x="420.80" y="38.70" font-size="14.5" text-anchor="middle">(</text>
<text x="429.10" y="39.20" font-size="15.5" text-anchor="middle" stroke="#111" stroke-width="0.3">r</text>
<text x="435.70" y="38.70" font-size="14.5" text-anchor="middle">)</text>
<text x="381.90" y="74.60" font-size="16" font-style="italic">ρ</text>
<path d="M391.70,70.30 v14.4 M401.70,70.30 v14.4" stroke="#222" stroke-width="1"/>
<text x="392.40" y="79.80" font-size="10.5" font-weight="bold">n</text>
<path d="M403.40,75.60 h6.5 M403.40,78.20 h6.5" stroke="#222" stroke-width="0.9"/>
<text x="412.20" y="79.80" font-size="12.5">2</text>
<text x="422.80" y="74.70" font-size="14.5" text-anchor="middle">(</text>
<text x="431.10" y="75.20" font-size="15.5" text-anchor="middle" stroke="#111" stroke-width="0.3">r</text>
<text x="437.70" y="74.70" font-size="14.5" text-anchor="middle">)</text>
<text x="381.90" y="110.50" font-size="16" font-style="italic">ρ</text>
<path d="M391.70,106.20 v14.4 M401.70,106.20 v14.4" stroke="#222" stroke-width="1"/>
<text x="392.40" y="115.70" font-size="10.5" font-weight="bold">n</text>
<path d="M403.40,111.50 h6.5 M403.40,114.10 h6.5" stroke="#222" stroke-width="0.9"/>
<text x="413.20" y="115.70" font-size="11.5">3</text>
<text x="424.20" y="110.60" font-size="14.5" text-anchor="middle">(</text>
<text x="432.50" y="111.10" font-size="15.5" text-anchor="middle" stroke="#111" stroke-width="0.3">r</text>
<text x="439.10" y="110.60" font-size="14.5" text-anchor="middle">)</text></g>
</svg></body></html>
